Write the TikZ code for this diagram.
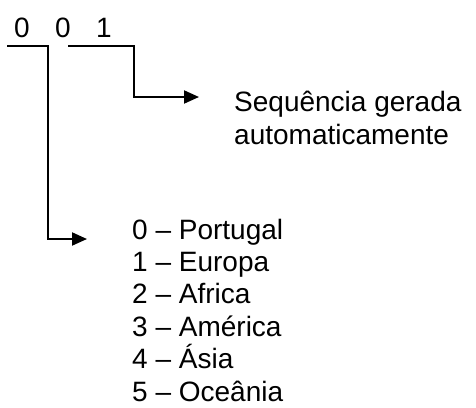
\documentclass[tikz,border=0pt]{standalone}
\usepackage{fontspec}
\setmainfont{Liberation Sans}
\usetikzlibrary{arrows.meta,positioning}

\begin{document}
\begin{tikzpicture}[x=1pt,y=-1pt,
  txt/.style={font=\fontsize{28}{33}\selectfont,inner sep=0pt},
  seta/.style={line width=2pt,-{Triangle[length=15pt,width=13pt]}}]
\useasboundingbox (0,0) rectangle (476,407);
% os tres digitos do codigo
\node[txt,anchor=base] (d1) at (22,37) {0};
\node[txt,anchor=base] (d2) at (63,37) {0};
\node[txt,anchor=base] (d3) at (104,37) {1};
% legendas
\node[txt,anchor=base west] (seq1) at (234,111) {Sequência gerada};
\node[txt,anchor=base west] (seq2) at (234,144) {automaticamente};
\foreach \n/\t [count=\i from 0] in {0/Portugal,1/Europa,2/Africa,3/América,4/Ásia,5/Oceânia}
  \node[txt,anchor=base west] (l\i) at (132,239+32.4*\i) {\n\ -- \t};
% ligacoes
\coordinate (u1) at (7,46);
\coordinate (u2) at (68,46);
\draw[seta] (u1) -- (48,46) |- ([xshift=-45pt]l0.base west);
\draw[seta] (u2) -- (134,46) |- ([xshift=-35pt,yshift=14pt]seq1.base west);
\end{tikzpicture}
\end{document}
